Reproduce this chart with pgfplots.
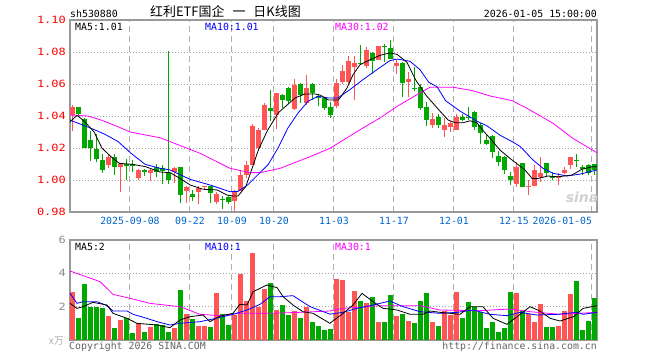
\documentclass[border=0pt]{standalone}
\usepackage{pgfplots}
\pgfplotsset{compat=1.18}
\usepackage{pgfplotstable}
\usepackage{fontspec}
\setmainfont{DejaVu Sans Mono}
\newfontfamily\cjk{Noto Sans CJK SC}
\newfontfamily\ylab{DejaVu Sans Mono}[FakeStretch=1.2]
\newfontfamily\wmfont{DejaVu Sans}
\definecolor{cup}{RGB}{255,85,85}
\definecolor{cdn}{RGB}{0,168,0}
\definecolor{framec}{RGB}{153,153,153}
\definecolor{gridc}{RGB}{175,175,175}
\definecolor{dotc}{RGB}{160,160,160}
\definecolor{dateblue}{RGB}{0,102,204}
\definecolor{mablue}{RGB}{0,0,255}
\definecolor{mamag}{RGB}{255,0,255}
\definecolor{txtgray}{RGB}{100,100,100}
\definecolor{volgray}{RGB}{140,140,140}

\pgfplotstableread{
i o h l c v
0 1.0406 1.0466 1.0308 1.0455 2.90
6 1.0094 1.0156 1.0077 1.0146 1.46
8 1.0083 1.0106 0.9927 1.0100 1.20
11 1.0015 1.0070 1.0000 1.0063 1.00
13 1.0042 1.0066 0.9994 1.0063 0.80
17 1.0048 1.0081 0.9980 1.0077 0.70
19 0.9933 0.9961 0.9856 0.9958 1.54
21 0.9927 0.9965 0.9850 0.9952 0.84
22 0.9955 0.9965 0.9940 0.9961 0.84
24 0.9865 0.9925 0.9850 0.9913 2.82
27 0.9867 0.9935 0.9805 0.9928 1.50
28 0.9929 1.0054 0.9929 1.0033 3.96
29 1.0033 1.0117 1.0010 1.0096 2.34
30 1.0096 1.0350 1.0096 1.0336 5.22
31 1.0200 1.0325 1.0180 1.0314 2.00
32 1.0314 1.0481 1.0310 1.0467 3.06
34 1.0408 1.0546 1.0320 1.0544 1.80
37 1.0446 1.0631 1.0440 1.0596 1.74
39 1.0481 1.0654 1.0470 1.0575 2.00
44 1.0460 1.0630 1.0450 1.0606 3.66
45 1.0611 1.0720 1.0600 1.0679 3.60
46 1.0615 1.0777 1.0600 1.0746 1.66
47 1.0704 1.0777 1.0500 1.0731 2.94
49 1.0710 1.0830 1.0700 1.0815 2.24
51 1.0752 1.0840 1.0750 1.0836 1.08
54 1.0715 1.0750 1.0663 1.0729 1.44
56 1.0615 1.0672 1.0520 1.0631 1.14
60 1.0344 1.0420 1.0323 1.0379 1.08
62 1.0313 1.0386 1.0270 1.0344 1.74
63 1.0333 1.0370 1.0300 1.0354 1.50
64 1.0313 1.0410 1.0313 1.0396 2.88
74 0.9973 1.0114 0.9954 1.0079 2.82
76 0.9955 1.0000 0.9906 0.9961 1.56
77 0.9963 1.0094 0.9960 1.0063 1.08
78 1.0021 1.0146 0.9990 1.0042 2.16
81 1.0012 1.0045 0.9970 1.0025 0.84
82 1.0046 1.0080 1.0040 1.0063 1.74
83 1.0094 1.0146 1.0070 1.0146 2.76
}\uptab

\pgfplotstableread{
i o h l c v
1 1.0455 1.0458 1.0408 1.0411 1.34
2 1.0381 1.0390 1.0200 1.0202 3.36
3 1.0250 1.0308 1.0120 1.0198 2.00
4 1.0194 1.0286 1.0114 1.0131 2.00
5 1.0125 1.0160 1.0046 1.0063 1.94
7 1.0146 1.0160 1.0031 1.0083 0.74
9 1.0100 1.0131 1.0000 1.0089 1.30
10 1.0100 1.0125 1.0050 1.0090 0.44
12 1.0063 1.0068 1.0027 1.0052 0.50
14 1.0080 1.0100 1.0020 1.0052 0.94
15 1.0075 1.0094 0.9975 1.0056 0.90
16 1.0042 1.0806 0.9975 1.0000 0.50
18 1.0079 1.0081 0.9858 0.9906 3.00
20 0.9913 0.9938 0.9870 0.9896 1.26
23 0.9963 0.9965 0.9856 0.9917 0.78
25 0.9884 0.9898 0.9820 0.9878 1.54
26 0.9892 0.9898 0.9850 0.9865 0.90
33 1.0450 1.0565 1.0370 1.0433 3.42
35 1.0529 1.0535 1.0450 1.0502 2.10
36 1.0575 1.0580 1.0480 1.0496 1.50
38 1.0600 1.0605 1.0480 1.0529 1.32
40 1.0600 1.0605 1.0500 1.0544 1.08
41 1.0527 1.0540 1.0460 1.0513 0.84
42 1.0513 1.0520 1.0440 1.0450 0.60
43 1.0454 1.0490 1.0390 1.0404 0.66
48 1.0733 1.0846 1.0720 1.0727 2.34
50 1.0795 1.0800 1.0660 1.0742 2.58
52 1.0836 1.0850 1.0740 1.0830 1.08
53 1.0827 1.0875 1.0756 1.0758 2.70
55 1.0729 1.0735 1.0520 1.0604 1.58
57 1.0576 1.0708 1.0558 1.0570 1.02
58 1.0580 1.0600 1.0440 1.0448 2.34
59 1.0458 1.0490 1.0340 1.0375 2.82
61 1.0396 1.0410 1.0323 1.0344 0.84
65 1.0396 1.0410 1.0370 1.0375 1.32
66 1.0396 1.0454 1.0375 1.0386 2.28
67 1.0427 1.0430 1.0310 1.0329 1.98
68 1.0344 1.0354 1.0225 1.0292 1.68
69 1.0250 1.0290 1.0220 1.0225 0.72
70 1.0277 1.0280 1.0140 1.0177 1.08
71 1.0150 1.0180 1.0090 1.0114 0.48
72 1.0142 1.0150 1.0040 1.0063 0.72
73 1.0025 1.0052 0.9969 1.0000 2.88
75 1.0104 1.0106 0.9954 0.9958 1.74
79 1.0104 1.0106 1.0020 1.0042 0.78
80 1.0025 1.0050 1.0000 1.0012 0.78
84 1.0124 1.0163 1.0083 1.0118 3.54
85 1.0083 1.0094 1.0030 1.0067 0.60
86 1.0094 1.0100 1.0030 1.0042 1.14
87 1.0098 1.0100 1.0030 1.0063 2.52
}\dntab

\pgfplotsset{
  kbase/.style={
    width=527bp, scale only axis, anchor=south west,
    xmin=-0.4167, xmax=87.4167,
    axis line style={draw=framec, line width=1.3bp},
    xtick={9.58,19.58,26.58,33.58,43.58,53.58,63.58,73.58,86.58},
    major tick length=0pt,
    xmajorgrids, ymajorgrids,
    major x grid style={draw=gridc, line width=1bp, dash pattern=on 6bp off 4bp},
    major y grid style={draw=dotc, line width=0.9bp, dash pattern=on 1bp off 2bp},
    yticklabel style={inner sep=0pt, anchor=east, xshift=-4bp},
  }
}

\begin{document}
\begin{tikzpicture}[x=1bp,y=1bp]
\useasboundingbox (0,0) rectangle (660,360);
\fill[white] (0,0) rectangle (660,360);

% ---------- price panel ----------
\begin{axis}[kbase,
  at={(70bp,148bp)}, height=192bp,
  ymin=0.98, ymax=1.10,
  xticklabels={2025-09-08,09-22,10-09,10-20,11-03,11-17,12-01,12-15,\llap{2026-01-05}},
  xticklabel style={font=\fontsize{9.9}{10}\selectfont, text=dateblue, inner sep=0pt, anchor=north, yshift=-5bp},
  ytick={0.98,1.00,1.02,1.04,1.06,1.08,1.10},
  yticklabels={0.98,1.00,1.02,1.04,1.06,1.08,1.10},
  yticklabel style={font=\ylab\fontsize{10}{10}\selectfont, text=red},
]
\addplot[cup, line width=1bp, mark=none, quiver={u=0, v=\thisrow{h}-\thisrow{l}}] table[x=i, y=l]{\uptab};
\addplot[cdn, line width=1bp, mark=none, quiver={u=0, v=\thisrow{h}-\thisrow{l}}] table[x=i, y=l]{\dntab};
\addplot[cup, line width=5bp, mark=none, quiver={u=0, v=\thisrow{c}-\thisrow{o}}] table[x=i, y=o]{\uptab};
\addplot[cdn, line width=5bp, mark=none, quiver={u=0, v=\thisrow{c}-\thisrow{o}}] table[x=i, y=o]{\dntab};

% MA30
\addplot[mamag, line width=0.8bp, mark=none] coordinates {
(-0.42,1.0406) (2.6,1.0400) (4.75,1.0375) (7.6,1.0333) (9.6,1.0300) (14.6,1.0264) (16.25,1.0240) (21.25,1.0167) (26.25,1.0073) (29.6,1.0046) (31.25,1.0046) (34.6,1.0073) (39.6,1.0146) (42.9,1.0198) (48.4,1.0325) (51.25,1.0388) (54.1,1.0460) (57.4,1.0533) (59.6,1.0580) (63.4,1.0580) (66.75,1.0558) (69.6,1.0525) (73.25,1.0496) (75.75,1.0448) (80.1,1.0354) (83.4,1.0260) (87.42,1.0170)};
% MA10
\addplot[mablue, line width=0.8bp, mark=none] coordinates {
(-0.42,1.0375) (1.4,1.0348) (3.1,1.0323) (5.4,1.0286) (7.6,1.0240) (9.75,1.0167) (12.1,1.0098) (14.6,1.0073) (16.25,1.0063) (19.6,1.0004) (22.9,0.9969) (26.25,0.9927) (27.6,0.9929) (29.25,0.9971) (30.9,1.0033) (32.6,1.0096) (34.25,1.0200) (35.9,1.0325) (37.6,1.0419) (39.25,1.0492) (40.9,1.0523) (42.6,1.0513) (44.25,1.0513) (44.6,1.0523) (46.25,1.0565) (48.4,1.0627) (50.75,1.0690) (52.9,1.0746) (54.1,1.0756) (56.25,1.0742) (57.9,1.0690) (59.4,1.0610) (60.75,1.0583) (62.2,1.0495) (64.6,1.0430) (66.6,1.0386) (67.6,1.0364) (69.1,1.0338) (71.25,1.0280) (73.25,1.0240) (74.6,1.0210) (76.75,1.0125) (78.4,1.0073) (80.1,1.0042) (82.4,1.0025) (84.6,1.0037) (87.42,1.0063)};
% MA5
\addplot[black, line width=0.8bp, mark=none] coordinates {
(-0.42,1.0364) (0.75,1.0404) (1.9,1.0370) (3.6,1.0300) (4.9,1.0200) (6.4,1.0146) (7.8,1.0104) (10,1.0098) (12.2,1.0083) (14.6,1.0050) (16.25,1.0046) (17.9,1.0010) (19.6,0.9969) (21.75,0.9942) (24.1,0.9938) (25.75,0.9906) (26.75,0.9900) (27.6,0.9900) (28.9,0.9960) (29.9,1.0070) (31,1.0190) (32.5,1.0310) (34.3,1.0420) (35.8,1.0470) (37.1,1.0513) (38.75,1.0538) (40.4,1.0538) (41.4,1.0529) (42.6,1.0500) (44.25,1.0500) (44.6,1.0513) (45.75,1.0575) (46.75,1.0658) (47.9,1.0720) (49.6,1.0752) (51.25,1.0779) (52.9,1.0794) (54.1,1.0785) (55.75,1.0735) (57.2,1.0625) (58.9,1.0530) (61.25,1.0430) (62.6,1.0375) (63.75,1.0358) (65.1,1.0358) (66.25,1.0370) (67.4,1.0358) (68.4,1.0310) (69.6,1.0260) (71.25,1.0187) (73.25,1.0125) (75.4,1.0063) (76.6,1.0010) (77.6,1.0010) (79.25,1.0025) (80.9,1.0020) (83.25,1.0031) (84.9,1.0067) (86.6,1.0083) (87.42,1.0083)};
\end{axis}

% ---------- volume panel ----------
\begin{axis}[kbase,
  at={(70bp,20bp)}, height=100bp,
  ymin=0, ymax=6,
  xticklabels={},
  ytick={2,4,6}, yticklabels={2,4,6},
  yticklabel style={font=\ylab\fontsize{10}{10}\selectfont, text=volgray},
]
\addplot[cup, line width=5bp, mark=none, quiver={u=0, v=\thisrow{v}}] table[x=i, y expr=0]{\uptab};
\addplot[cdn, line width=5bp, mark=none, quiver={u=0, v=\thisrow{v}}] table[x=i, y expr=0]{\dntab};
% MA30
\addplot[mamag, line width=0.8bp, mark=none] coordinates {
(-0.42,4.14) (4.6,3.50) (6.75,2.74) (9.6,2.50) (12.9,2.20) (17.9,2.00) (21.25,1.54) (24.6,1.46) (27.9,1.60) (32.9,1.60) (37.9,1.66) (42.9,1.74) (45.1,1.90) (51.25,2.06) (57.9,2.06) (61.25,1.80) (67.9,1.76) (72.9,1.86) (76.25,1.70) (81.25,1.54) (87.42,1.66)};
% MA10
\addplot[mablue, line width=0.8bp, mark=none] coordinates {
(-0.42,2.80) (0.75,2.20) (1.75,2.30) (4.1,2.30) (5.75,2.06) (6.75,1.74) (9.1,1.74) (10.1,1.54) (12.4,1.30) (14.1,1.10) (16.25,0.90) (17.9,1.00) (21.25,1.10) (23.4,1.26) (26.75,1.54) (29.1,1.80) (31.25,2.14) (32.9,2.60) (34.6,2.60) (36.75,2.66) (39.6,2.00) (42.9,1.55) (45.1,1.66) (47.4,1.90) (49.6,2.06) (52.9,2.34) (55.1,2.00) (57.9,1.70) (61.25,1.60) (64.1,1.66) (66.75,1.80) (69.6,1.54) (72.4,1.46) (74.6,1.66) (77.4,1.50) (80.75,1.54) (84.1,1.66) (85.1,1.54) (87.42,1.66)};
% MA5
\addplot[black, line width=0.8bp, mark=none] coordinates {
(-0.42,2.20) (0.75,1.90) (1.75,2.00) (3.4,2.26) (5.75,2.10) (6.75,1.60) (9.1,1.30) (10.75,1.00) (14.1,0.90) (16.25,0.74) (17.9,1.20) (19.6,1.40) (21.75,1.50) (22.9,1.10) (24.6,1.44) (26.75,1.60) (27.9,2.14) (29.1,2.10) (30.1,2.90) (32.4,3.30) (34.1,3.14) (35.1,2.60) (36.75,2.10) (38.4,1.70) (40.1,1.60) (42.9,1.00) (45.1,1.60) (46.75,2.10) (48.25,2.80) (50.1,2.30) (51.75,1.90) (54.1,1.80) (56.25,1.54) (58.4,1.54) (59.6,1.74) (61.25,1.66) (64.6,1.54) (66.25,2.00) (68.4,2.00) (70.1,1.30) (72.4,0.94) (74.1,1.40) (76.25,2.00) (77.9,1.74) (79.6,1.30) (81.25,1.14) (83.5,1.40) (85.1,1.90) (87.42,2.06)};
\end{axis}

% ---------- texts ----------
\node[anchor=base west, inner sep=0pt, font=\fontsize{9.9}{10}\selectfont] at (70,343) {sh530880};
\node[anchor=base west, inner sep=0pt, font=\cjk\fontsize{13}{13}\selectfont] at (150,344) {红利ETF国企\hspace{8bp}一\hspace{8bp}日K线图};
\node[anchor=base east, inner sep=0pt, font=\fontsize{9.9}{10}\selectfont] at (597,343) {2026-01-05 15:00:00};
\node[anchor=base west, inner sep=0pt, font=\fontsize{9.9}{10}\selectfont] at (75,330) {MA5:1.01};
\node[anchor=base west, inner sep=0pt, font=\fontsize{9.9}{10}\selectfont, text=mablue] at (205,330) {MA10:1.01};
\node[anchor=base west, inner sep=0pt, font=\fontsize{9.9}{10}\selectfont, text=mamag] at (335,330) {MA30:1.02};
\node[anchor=base west, inner sep=0pt, font=\fontsize{9.9}{10}\selectfont] at (75,110) {MA5:2};
\node[anchor=base west, inner sep=0pt, font=\fontsize{9.9}{10}\selectfont, text=mablue] at (205,110) {MA10:1};
\node[anchor=base west, inner sep=0pt, font=\fontsize{9.9}{10}\selectfont, text=mamag] at (335,110) {MA30:1};
\node[anchor=base east, inner sep=0pt, font=\cjk\fontsize{10}{10}\selectfont, text=volgray!70] at (64,16) {\textit{x}万};
\node[anchor=base west, inner sep=0pt, font=\fontsize{9.9}{10}\selectfont, text=txtgray] at (69,11) {Copyright 2026 SINA.COM};
\node[anchor=base east, inner sep=0pt, font=\fontsize{9.9}{10}\selectfont, text=txtgray] at (597,11) {http://finance.sina.com.cn};
\node[anchor=base, inner sep=0pt, font=\wmfont\bfseries\itshape\fontsize{14}{14}\selectfont, text=black!18] at (582,158) {sina};
\end{tikzpicture}
\end{document}
